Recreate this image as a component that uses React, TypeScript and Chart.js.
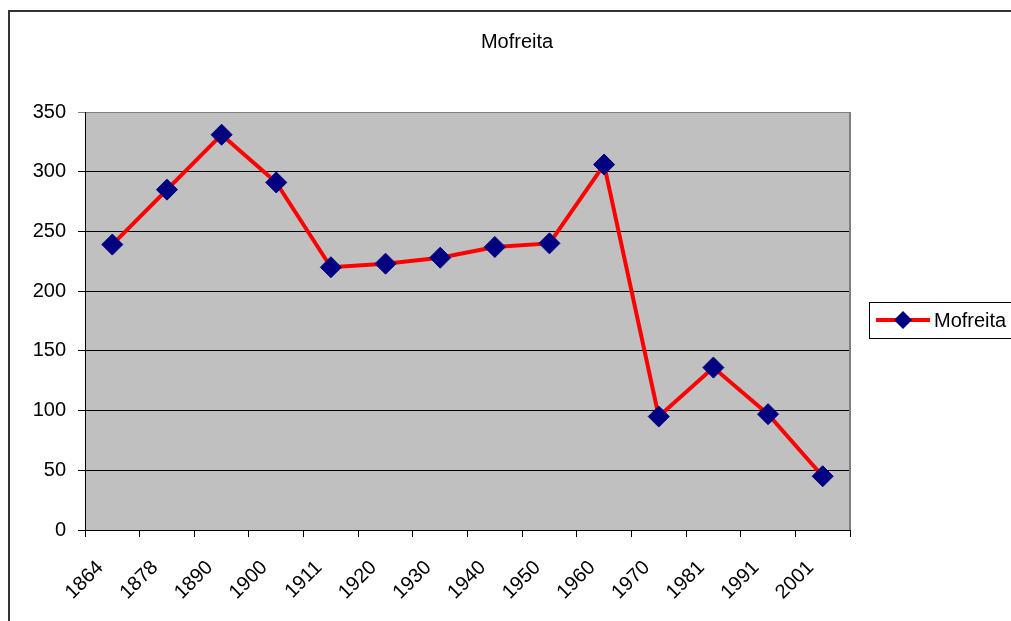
import React, { useEffect, useRef } from 'react';
import { Chart, registerables } from 'chart.js';

Chart.register(...registerables);

const years = ['1864', '1878', '1890', '1900', '1911', '1920', '1930', '1940', '1950', '1960', '1970', '1981', '1991', '2001'];
const population = [239, 285, 331, 291, 220, 223, 228, 237, 240, 306, 95, 136, 97, 45];
const yMin = 0;
const yMax = 350;
const yStep = 50;
const seriesName = 'Mofreita';
const chartTitle = 'Mofreita';

const FONT = '"Liberation Sans", Arial, sans-serif';

const framePlugin = {
  id: 'excelFrame',
  beforeDraw(chart: any) {
    const { ctx, chartArea } = chart;
    ctx.save();
    ctx.fillStyle = '#ffffff';
    ctx.fillRect(0, 0, chart.width, chart.height);
    // outer chart border (clipped by the window on right/bottom)
    ctx.strokeStyle = '#333333';
    ctx.lineWidth = 2;
    ctx.strokeRect(9, 11, 1200, 800);
    // plot area
    ctx.fillStyle = '#C0C0C0';
    ctx.fillRect(chartArea.left, chartArea.top, chartArea.right - chartArea.left, chartArea.bottom - chartArea.top);
    ctx.restore();
  },
  beforeDatasetsDraw(chart: any) {
    const { ctx, chartArea } = chart;
    ctx.save();
    ctx.strokeStyle = '#808080';
    ctx.lineWidth = 2;
    ctx.beginPath();
    ctx.moveTo(chartArea.right, chartArea.top);
    ctx.lineTo(chartArea.right, chartArea.bottom);
    ctx.stroke();
    ctx.restore();
  },
  afterDraw(chart: any) {
    const { ctx } = chart;
    ctx.save();
    // title
    ctx.fillStyle = '#000000';
    ctx.font = `20px ${FONT}`;
    ctx.textAlign = 'center';
    ctx.textBaseline = 'middle';
    ctx.fillText(chartTitle, 517, 42);
    // legend box
    ctx.strokeStyle = '#000000';
    ctx.lineWidth = 1;
    ctx.strokeRect(869.5, 302.5, 200, 36);
    // legend line
    ctx.strokeStyle = '#FF0000';
    ctx.lineWidth = 4;
    ctx.beginPath();
    ctx.moveTo(876, 320);
    ctx.lineTo(930, 320);
    ctx.stroke();
    // legend marker
    ctx.fillStyle = '#000080';
    ctx.beginPath();
    ctx.moveTo(903 - 9, 320);
    ctx.lineTo(903, 320 - 9);
    ctx.lineTo(903 + 9, 320);
    ctx.lineTo(903, 320 + 9);
    ctx.closePath();
    ctx.fill();
    // legend text
    ctx.fillStyle = '#000000';
    ctx.font = `20px ${FONT}`;
    ctx.textAlign = 'left';
    ctx.textBaseline = 'middle';
    ctx.fillText(seriesName, 934, 321);
    ctx.restore();
  },
};

export default function App() {
  const canvasRef = useRef<HTMLCanvasElement | null>(null);

  useEffect(() => {
    const canvas = canvasRef.current;
    if (!canvas) return;
    const chart = new Chart(canvas, {
      type: 'line',
      data: {
        labels: years,
        datasets: [
          {
            label: seriesName,
            data: population,
            borderColor: '#FF0000',
            borderWidth: 4,
            tension: 0,
            pointStyle: 'rectRot',
            pointRadius: 10.5,
            pointBackgroundColor: '#000080',
            pointBorderColor: '#000080',
            pointBorderWidth: 1,
            fill: false,
          },
        ],
      },
      options: {
        animation: false,
        responsive: false,
        devicePixelRatio: 1,
        layout: { padding: { top: 112, right: 161, left: 0, bottom: 0 } },
        plugins: {
          legend: { display: false },
          title: { display: false },
          tooltip: { enabled: false },
        },
        scales: {
          x: {
            type: 'category',
            offset: true,
            grid: {
              offset: true,
              drawOnChartArea: false,
              drawTicks: true,
              tickLength: 7,
              color: '#000000',
              lineWidth: 1,
            },
            border: { color: '#000000', width: 1 },
            ticks: {
              autoSkip: false,
              maxRotation: 45,
              minRotation: 45,
              color: '#000000',
              font: { family: FONT, size: 20 },
              padding: 19,
              labelOffset: -12,
            },
            afterFit(scale: any) {
              scale.height = 91;
            },
          },
          y: {
            min: yMin,
            max: yMax,
            ticks: {
              stepSize: yStep,
              color: '#000000',
              font: { family: FONT, size: 20 },
              padding: 12,
            },
            grid: {
              color: (c: any) => (c.tick && c.tick.value === yMax ? '#808080' : '#000000'),
              lineWidth: 1,
              tickLength: 7,
              drawTicks: true,
            },
            border: { color: '#000000', width: 1 },
            afterFit(scale: any) {
              scale.width = 85;
            },
          },
        },
      },
      plugins: [framePlugin],
    });
    return () => chart.destroy();
  }, []);

  return (
    <div style={{ position: 'fixed', left: 0, top: 0, width: 1011, height: 621, background: '#fff' }}>
      <canvas ref={canvasRef} width={1011} height={621} style={{ display: 'block', width: 1011, height: 621 }} />
    </div>
  );
}
